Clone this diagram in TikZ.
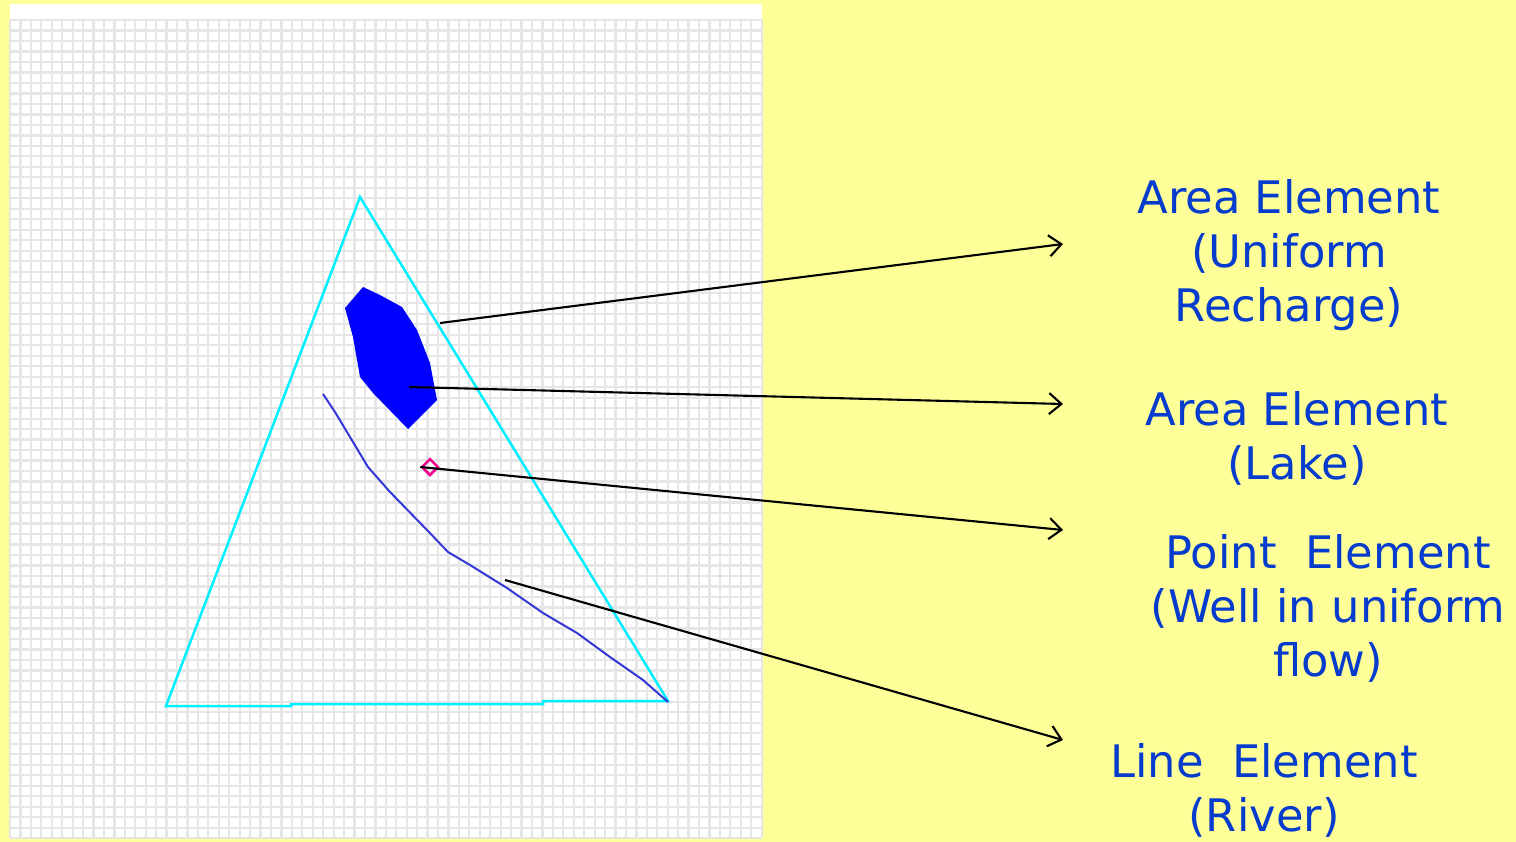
\documentclass[tikz,border=0pt]{standalone}
\usepackage{fontspec}
\setmainfont{DejaVu Sans}
\usetikzlibrary{shapes.geometric,arrows.meta}
\definecolor{paper}{RGB}{255,255,153}
\definecolor{inkblue}{RGB}{5,60,205}
\definecolor{gridgray}{RGB}{230,230,230}
\definecolor{aqua}{RGB}{0,240,255}
\definecolor{riverblue}{RGB}{55,55,215}

\tikzset{
  elemlabel/.style={text=inkblue, font=\fontsize{25.5}{30.7}\selectfont, align=center},
  pointer/.style={-{Straight Barb[length=7pt,width=12pt]}, line width=1.2pt},
}

\begin{document}
\begin{tikzpicture}[x=0.02cm, y=-0.02cm]
  % Background
  \fill[paper] (0,0) rectangle (1516,842);
  \useasboundingbox (0,0) rectangle (1516,842);

  % Grid panel
  \fill[white] (10,4) rectangle (762,838);
  \foreach \i in {0,...,72}
    \draw[gridgray, line width=0.045cm] ({10+\i*10.44},20) -- ({10+\i*10.44},838);
  \foreach \j in {0,...,78}
    \draw[gridgray, line width=0.045cm] (10,{20+\j*10.49}) -- (762,{20+\j*10.49});

  % Model boundary
  \draw[aqua, line width=0.05cm] (360,197) -- (668,701) -- (543,701) -- (543,704)
    -- (291,704) -- (291,706) -- (166,706) -- cycle;

  % Lake
  \fill[blue] (345,308) -- (363,287) -- (380,295) -- (402,307) -- (417,330) -- (430,363)
    -- (437,400) -- (408,429) -- (373,393) -- (360,377) -- (353,337) -- cycle;

  % River
  \draw[riverblue, line width=0.04cm] (323,394) -- (335,412) -- (350,437) -- (368,467)
    -- (390,492) -- (427,530) -- (448,552) -- (470,565) -- (507,588) -- (543,613)
    -- (577,633) -- (610,657) -- (643,680) -- (668,702);

  % Well
  \node[diamond, draw=magenta, line width=0.05cm, inner sep=0pt, minimum size=0.34cm] (well) at (430,467) {};

  % Feature points and arrow ends
  \coordinate (recharge) at (440,323);
  \coordinate (lake) at (409,387);
  \coordinate (river) at (505,580);
  \coordinate (rechargeEnd) at (1063,244);
  \coordinate (lakeEnd) at (1063,404);
  \coordinate (wellEnd) at (1063,530);
  \coordinate (riverEnd) at (1063,740);

  % Labels
  \node[elemlabel] (rechargeLbl) at (1289,255) {Area Element\\(Uniform\\Recharge)};
  \node[elemlabel] (lakeLbl) at (1297,438) {Area Element\\(Lake)};
  \node[elemlabel] (wellLbl) at (1328,608) {Point\ \ Element\\(Well in uniform\\flow)};
  \node[elemlabel] (riverLbl) at (1264,790) {Line\ \ Element\\(River)};

  % Arrows
  \draw[pointer] (recharge) -- (rechargeEnd);
  \draw[pointer] (lake) -- (lakeEnd);
  \draw[pointer] (well.west) -- (wellEnd);
  \draw[pointer] (river) -- (riverEnd);
\end{tikzpicture}
\end{document}
